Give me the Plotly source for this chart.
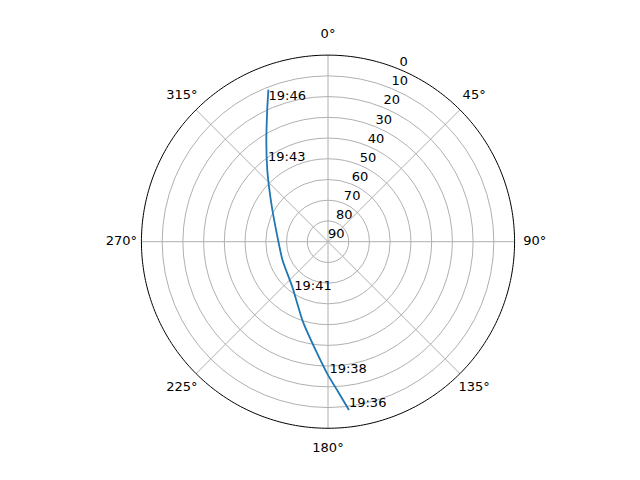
#!/usr/bin/env python3
"""Sky plot of a satellite pass (azimuth / elevation) with Plotly."""

import plotly.graph_objects as go

# pass track (degrees)
track_az = [172.9, 176.2, 180.1, 186.2, 197.8, 217.9, 247.7, 275.5,
            299.7, 313.1, 319.9, 328.1, 335.4, 338.6]
track_el = [8.2, 17.6, 25.9, 36.9, 49.9, 62.1, 66.3, 65.5,
            59.1, 51.0, 44.5, 33.7, 19.6, 11.2]

# time stamps along the pass
label_times = ["19:36", "19:38", "19:41", "19:43", "19:46"]
label_az = [172.9, 179.4, 213.0, 322.1, 336.8]
label_el = [8.2, 25.0, 60.1, 42.9, 17.2]

angle_ticks = [0, 45, 90, 135, 180, 225, 270, 315]
elev_ticks = [0, 10, 20, 30, 40, 50, 60, 70, 80, 90]

FONT = "DejaVu Sans"
GRID = "#b0b0b0"
RIM = 90                   # elevation 0 sits on this radius
R_MAX = 100                # extra room outside the rim for the angle labels
RADIAL_LABEL_ANGLE = 22.5  # where matplotlib puts the radial labels
ANGLE_LABEL_R = 99.7


def to_r(elevations):
    # elevation 90 at the centre, 0 on the rim
    return [RIM - e for e in elevations]


fig = go.Figure()

# spokes every 45 degrees, stopping at the rim
for a in angle_ticks:
    fig.add_trace(
        go.Scatterpolar(
            r=[0, RIM],
            theta=[a, a],
            mode="lines",
            line=dict(color=GRID, width=1),
            hoverinfo="skip",
            showlegend=False,
        )
    )

# outer frame
rim_theta = list(range(0, 361))
fig.add_trace(
    go.Scatterpolar(
        r=[RIM] * len(rim_theta),
        theta=rim_theta,
        mode="lines",
        line=dict(color="black", width=1),
        hoverinfo="skip",
        showlegend=False,
    )
)

fig.add_trace(
    go.Scatterpolar(
        r=to_r(track_el),
        theta=track_az,
        mode="lines",
        line=dict(color="#1f77b4", width=1.8, shape="spline", smoothing=0.6),
        showlegend=False,
    )
)
fig.add_trace(
    go.Scatterpolar(
        r=to_r(label_el),
        theta=label_az,
        mode="text",
        text=label_times,
        textposition="top right",
        textfont=dict(family=FONT, size=13, color="black"),
        showlegend=False,
    )
)
# radial tick labels, kept horizontal like matplotlib does
fig.add_trace(
    go.Scatterpolar(
        r=to_r(elev_ticks),
        theta=[RADIAL_LABEL_ANGLE] * len(elev_ticks),
        mode="text",
        text=[str(e) for e in elev_ticks],
        textposition="top right",
        textfont=dict(family=FONT, size=13, color="black"),
        showlegend=False,
        cliponaxis=False,
    )
)
# angular tick labels, centred outside the rim
fig.add_trace(
    go.Scatterpolar(
        r=[ANGLE_LABEL_R] * len(angle_ticks),
        theta=angle_ticks,
        mode="text",
        text=[f"{a}°" for a in angle_ticks],
        textposition="middle center",
        textfont=dict(family=FONT, size=13, color="black"),
        showlegend=False,
        cliponaxis=False,
    )
)

fig.update_layout(
    width=640,
    height=480,
    margin=dict(l=0, r=0, t=0, b=0),
    paper_bgcolor="white",
    font=dict(family=FONT, size=13, color="black"),
    polar=dict(
        domain=dict(x=[112.7 / 640, 527.3 / 640], y=[1 - 441.0 / 480, 1 - 26.4 / 480]),
        bgcolor="rgba(0,0,0,0)",
        angularaxis=dict(
            rotation=90,
            direction="clockwise",
            tickmode="array",
            tickvals=angle_ticks,
            showticklabels=False,
            ticks="",
            showline=False,
            showgrid=False,
        ),
        radialaxis=dict(
            range=[0, R_MAX],
            tickmode="array",
            tickvals=[10, 20, 30, 40, 50, 60, 70, 80],
            showticklabels=False,
            ticks="",
            showline=False,
            showgrid=True,
            gridcolor=GRID,
            gridwidth=1,
        ),
    ),
)

fig.write_html("out.html")
